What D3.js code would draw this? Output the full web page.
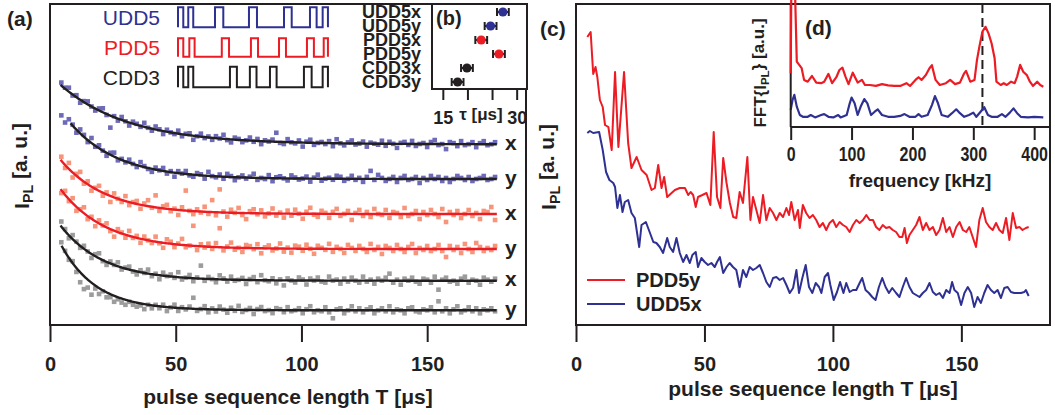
<!DOCTYPE html>
<html>
<head>
<meta charset="utf-8">
<script src="https://cdnjs.cloudflare.com/ajax/libs/d3/7.8.5/d3.min.js"></script>
<style>
  body { margin: 0; background: #fff; }
  text { font-family: "Liberation Sans", Arial, sans-serif; }
</style>
</head>
<body>
<div id="chart"></div>
<script>
// ---------------- data ----------------
// (a) pulse sequence lengths T [µs] of the measured points
const sampleT = [4.5,6,7.5,9,10.5,12,13.5,15,16.5,18,19.5,21,22.5,24,25.5,27,28.5,30,31.5,33,
  34.5,36,37.5,39,40.5,42,43.5,45,46.5,48,49.5,51,52.5,54,55.5,57,58.5,60,61.5,63,
  64.5,66,67.5,69,70.5,72,73.5,75,76.5,78,79.5,81,82.5,84,85.5,87,88.5,90,91.5,93,
  94.5,96,97.5,99,100.5,102,103.5,105,106.5,108,109.5,111,112.5,114,115.5,117,118.5,120,121.5,123,
  124.5,126,127.5,129,130.5,132,133.5,135,136.5,138,139.5,141,142.5,144,145.5,147,148.5,150,151.5,153,
  154.5,156,157.5,159,160.5,162,163.5,165,166.5,168,169.5,171,172.5,174,175.5,177];

// (a) exponential fits, vertically offset traces [a.u.]
const seriesNames = ["UDD5x","UDD5y","PDD5x","PDD5y","CDD3x","CDD3y"];
const fitBase  = [180.7, 146, 111, 76, 44.3, 14.7];
const fitAmp   = [69.3, 85.7, 68.4, 75.6, 70.6, 89.7];
const fitDecay = [27.2, 19, 18, 18, 17, 14];
const fitStart = [4.2, 8.2, 4.2, 4.2, 4.2, 4.6];
const traceLetters = ["x","y","x","y","x","y"];

// (a) deviation of each measured point from its fit [a.u.]
const resUDD5x = [3,1,4,-1,2,-3,1,3,0,-2,2,4,-1,-12,1,-2,3,0,-3,2,
  1,-1,4,0,-2,3,1,-3,2,0,-1,3,-2,1,2,-4,0,3,-1,1,
  -2,2,0,4,-1,-3,2,1,-2,0,3,-1,2,-3,1,0,2,9,-1,-2,
  3,0,-1,2,-4,1,3,-2,0,1,-1,2,-3,4,0,-2,1,3,-1,0,
  2,-3,1,0,-1,3,-2,2,0,-4,1,2,-1,3,-2,0,1,-3,2,4,
  -1,0,-5,2,1,-2,3,-1,0,2,-3,1,3,-1,0,2];
const resUDD5y = [-4,-6,2,1,-3,4,2,-2,5,-1,3,0,-3,2,4,-2,1,-1,3,0,
  -2,4,1,-1,-3,2,0,3,-2,1,-4,2,0,3,-1,-2,2,1,-3,4,
  0,-1,2,-2,3,1,-3,0,2,-1,1,4,-2,0,-1,3,-3,1,2,0,
  -2,3,1,-1,0,2,-3,1,4,-2,0,1,-1,3,2,-2,0,3,-1,1,
  -3,2,8,-1,4,1,-2,0,2,-3,1,3,-1,0,2,-4,1,-1,3,0,
  2,-2,1,-3,0,3,1,-1,2,-2,0,1,3,-1,0,2];
const resPDD5x = [4,-3,6,-5,2,7,-2,3,-4,1,5,-3,2,-6,4,0,-2,5,-3,1,
  3,-4,2,6,-1,12,-3,2,4,-2,1,-5,3,20,0,-3,2,-1,5,-2,
  12,-3,23,1,-4,3,0,5,-2,-6,2,4,-1,3,-3,0,5,-2,1,-4,
  3,-2,4,0,-5,2,6,-1,-3,3,1,-4,2,5,-2,0,3,-6,1,4,
  -2,2,-3,5,0,-1,4,-4,2,1,-3,6,-2,0,3,-5,2,-1,4,0,
  -3,5,-8,2,-1,3,-4,0,4,-2,1,-5,3,2,7,-6];
const resPDD5y = [-3,4,-2,5,-4,1,6,-3,2,-5,3,0,4,-2,-6,3,1,-3,5,-1,
  2,-4,3,0,-2,5,-1,-5,4,2,-3,1,6,-2,0,20,-4,2,-1,3,
  -2,4,19,-3,1,5,-2,0,-4,3,2,-1,4,-5,1,3,-2,0,5,-3,
  1,-4,3,2,-2,4,0,-5,3,1,-1,5,-3,2,0,-4,4,1,-2,3,
  0,-3,5,-1,2,-5,3,1,-2,4,0,-3,2,5,-4,1,-1,3,-2,0,
  4,-2,-8,3,-1,2,-4,5,0,-3,6,2,-2,1,-1,3];
const resCDD3x = [5,2,-3,4,1,-2,3,0,-4,2,5,-1,-3,2,0,4,-2,1,3,-1,
  -3,2,0,4,-2,1,-4,3,0,2,-1,5,-2,0,3,-3,1,13,-2,2,
  0,-3,4,1,-2,3,-1,0,2,-4,1,3,-2,5,0,-1,2,-3,1,-5,
  2,0,-2,3,1,-4,2,0,3,-1,-2,4,0,1,-3,2,-1,3,0,-2,
  4,-1,1,-3,2,0,3,7,-2,1,-4,2,0,3,-1,-3,2,1,-2,4,
  -9,1,3,-1,0,-3,2,4,-2,1,0,-4,3,1,-1,2];
const resCDD3y = [3,1,-2,2,-4,-10,-13,-8,-12,-3,-6,-1,-5,-3,-6,-2,-4,-5,-1,-3,
  -4,-2,-5,0,-3,1,-2,2,-4,0,3,-3,1,-1,2,11,-2,0,3,-3,
  1,-2,3,0,-3,2,-1,4,-2,0,2,-4,1,3,-1,0,-3,2,1,-2,
  3,-1,0,2,-3,1,4,-2,0,-1,3,-2,-8,1,2,-3,0,4,-1,2,
  -2,1,3,-3,0,2,-1,4,-2,1,0,-3,2,3,-1,-2,1,0,3,-2,
  9,-1,2,-3,1,4,-2,0,3,-1,2,-3,1,0,2,-1];
const residuals = [resUDD5x, resUDD5y, resPDD5x, resPDD5y, resCDD3x, resCDD3y];

// (a) pulse timing sketches, pulse edges as fraction of one cycle
const sequenceNames = ["UDD5","PDD5","CDD3"];
const pulsesUDD5 = [[0,0.035],[0.068,0.101],[0.245,0.30],[0.47,0.523],[0.702,0.753],[0.874,0.918],[0.958,0.993]];
const pulsesPDD5 = [[0,0.035],[0.075,0.11],[0.29,0.338],[0.483,0.53],[0.669,0.715],[0.854,0.90],[0.965,0.993]];
const pulsesCDD3 = [[0,0.035],[0.068,0.101],[0.344,0.39],[0.476,0.52],[0.609,0.653],[0.834,0.885],[0.958,0.993]];

// (b) fitted decay times tau [µs]
const tauValues = [27.2, 24.7, 22.8, 26.4, 19.9, 18.0];
const tauErrors = [1.2, 1.2, 1.2, 1.2, 1.2, 1.2];
const tauTicks = [15, 20, 25, 30];

// (c) measured traces [T µs, I_PL a.u.]
const tracePDD5y = [[4.4,288],[5.7,293],[6.7,251],[7.6,258],[8.3,248],[9.3,225],[10.4,218],[11.3,200],[12.6,198],[13.9,175],
  [15.2,253],[16.5,178],[18.7,253],[20.3,182],[21.6,157],[23.6,168],[25.5,155],[27.5,150],[29.4,135],[30.7,137],
  [32.0,160],[33.3,137],[34.3,148],[35.5,128],[37.2,132],[38.5,135],[40.4,137],[42.4,137],[43.7,130],[44.6,133],
  [45.6,130],[46.6,118],[47.5,128],[49.2,130],[50.8,132],[52.3,120],[53.6,193],[54.9,128],[56.2,117],[57.3,167],
  [58.6,142],[59.9,122],[61.2,108],[62.4,107],[63.7,133],[65.0,122],[66.7,168],[67.9,105],[68.9,128],[70.2,115],
  [71.5,102],[72.8,130],[74.1,105],[75.4,117],[76.7,112],[78.0,105],[79.3,112],[80.6,108],[81.9,117],[82.9,110],
  [83.8,123],[85.1,105],[86.4,115],[87.1,97],[88.3,120],[89.6,112],[90.9,107],[92.2,110],[93.5,105],[94.8,98],
  [96.1,102],[97.4,95],[98.7,102],[100.0,105],[101.3,98],[102.6,103],[103.9,100],[105.2,98],[106.5,93],[107.8,100],
  [109.1,105],[110.4,102],[111.7,105],[113.0,110],[114.3,105],[115.6,105],[116.8,98],[118.1,95],[119.4,100],[120.7,97],
  [122.0,98],[123.3,95],[124.6,93],[125.9,88],[127.0,88],[127.9,97],[128.8,82],[129.8,90],[131.1,95],[132.4,100],
  [133.7,108],[135.0,95],[136.3,102],[137.6,95],[138.9,98],[140.2,90],[141.5,95],[142.8,107],[144.1,93],[145.4,98],
  [146.7,88],[148.0,98],[149.3,103],[150.6,95],[151.9,93],[153.1,98],[154.4,88],[155.7,78],[157.0,105],[158.3,117],
  [159.6,103],[160.9,98],[162.2,95],[163.5,102],[164.8,95],[166.1,92],[167.4,107],[168.7,85],[170.0,112],[171.3,97],
  [172.6,98],[173.8,95],[175.1,97],[176.2,98]];
const traceUDD5x = [[4.4,192],[5.4,194],[6.7,192],[9.0,193],[10.4,175],[11.7,153],[13.0,145],[14.5,142],[15.2,138],[16.1,117],
  [17.1,130],[18.1,113],[19.0,123],[20.3,125],[21.6,112],[22.9,107],[24.6,78],[25.5,100],[27.2,103],[28.8,92],
  [30.1,83],[31.3,82],[32.6,78],[33.9,72],[35.5,87],[36.5,78],[37.8,73],[39.1,87],[40.4,72],[41.7,63],
  [43.0,70],[44.3,62],[45.3,70],[46.6,73],[47.5,58],[48.8,67],[50.1,63],[51.4,60],[52.7,62],[54.0,58],
  [54.9,63],[56.0,68],[57.3,52],[58.6,58],[59.8,62],[61.1,58],[62.4,55],[63.7,38],[65.0,55],[66.3,48],
  [67.6,58],[68.9,55],[70.2,57],[71.5,60],[72.8,52],[74.1,43],[75.4,38],[76.7,47],[78.0,48],[79.3,45],
  [80.6,47],[81.9,40],[83.2,32],[84.5,37],[85.8,55],[86.8,32],[88.1,47],[89.4,60],[90.7,38],[92.0,32],
  [93.3,42],[94.6,38],[95.5,32],[96.8,48],[98.1,52],[99.0,40],[100.3,25],[101.6,33],[102.8,43],[104.1,32],
  [105.2,42],[106.5,33],[107.8,35],[109.1,35],[110.4,42],[111.4,47],[112.7,35],[114.0,32],[115.3,28],[116.6,25],
  [117.9,38],[119.2,47],[120.5,38],[121.8,32],[123.1,37],[124.6,32],[125.9,28],[127.2,38],[128.5,47],[129.8,38],
  [131.1,32],[132.4,30],[133.7,28],[135.0,32],[136.3,35],[137.6,42],[138.9,33],[140.2,30],[141.5,32],[142.8,27],
  [144.1,35],[145.4,32],[146.4,43],[147.3,35],[148.6,32],[149.9,20],[151.2,32],[152.5,38],[153.8,32],[155.0,18],
  [156.3,28],[157.6,22],[158.9,32],[160.2,40],[161.5,35],[162.8,32],[164.1,35],[165.4,27],[166.7,37],[168.0,38],
  [169.3,33],[170.6,32],[171.9,32],[173.2,32],[174.5,33],[175.1,35],[176.2,29]];

// (d) Fourier spectra [kHz, a.u.]
const fftPDD5y = [[0,17.9],[1,46],[7,46],[10,21.8],[14,20.7],[18,19.6],[22,15.7],[28,15.1],[35,17.0],[42,14.8],
  [50,14.6],[55,15.1],[62,17.7],[68,14.6],[75,16.6],[80,19.0],[85,19.8],[90,16.8],[95,14.3],[102,18.1],
  [110,14.8],[117,15.7],[122,14.0],[130,14.0],[140,13.7],[150,14.3],[160,13.9],[170,13.7],[180,13.7],[190,14.6],
  [196,13.7],[205,15.7],[210,16.6],[215,15.7],[222,17.3],[228,19.6],[232,20.6],[238,15.7],[245,14.0],[255,14.6],
  [262,15.7],[270,14.3],[278,14.8],[285,17.9],[288,18.7],[295,15.1],[302,15.7],[306,22.3],[310,26.8],[315,31.8],
  [320,33.4],[325,31.2],[330,27.9],[335,22.9],[338,15.1],[345,14.0],[350,14.6],[355,14.0],[362,15.1],[368,14.6],
  [372,16.8],[377,20.7],[382,18.4],[388,17.3],[393,15.1],[398,13.7],[405,15.1],[410,14.0],[415,13.4]];
const fftUDD5x = [[0,5.7],[3,9.0],[6,10.7],[10,6.8],[15,4.0],[20,3.4],[28,3.4],[33,4.0],[40,3.2],[50,4.0],
  [55,4.3],[62,3.4],[70,3.2],[78,4.0],[82,3.2],[92,4.0],[97,7.9],[100,9.8],[105,7.9],[110,4.0],
  [115,6.8],[121,9.3],[126,7.9],[132,4.0],[138,5.1],[143,5.9],[150,4.0],[160,3.4],[170,3.4],[180,3.7],
  [187,4.3],[195,3.4],[205,3.4],[210,4.3],[215,3.4],[225,4.0],[232,7.3],[237,10.3],[242,7.9],[248,4.0],
  [258,3.4],[265,4.6],[272,5.9],[278,4.6],[285,3.4],[293,4.0],[300,4.8],[305,3.4],[312,5.1],[318,6.6],
  [324,4.0],[330,3.4],[340,3.4],[347,4.3],[353,3.4],[360,4.8],[366,6.2],[372,4.6],[378,3.4],[390,3.2],
  [400,3.4],[415,3.2]];
const fftMarker = 315;
const fftTicks = [0, 100, 200, 300, 400];
const timeTicks = [0, 50, 100, 150];

// ---------------- drawing ----------------
const ink = "#231f20";
const red = "#ec1c24";
const navy = "#2e3192";
const dotColors = ["#6d6ab8","#6d6ab8","#f7957b","#f7957b","#9c9c9c","#9c9c9c"];
const fitColors = [ink, ink, red, red, ink, ink];
const tauColors = [navy, navy, red, red, ink, ink];

const svg = d3.select("#chart").append("svg")
  .attr("width", 1055)
  .attr("height", 415);

// text with I_PL subscript
function iplText(sel, before, after) {
  sel.append("tspan").text(before + "I");
  sel.append("tspan").text("PL").attr("font-size", "0.68em").attr("dy", "0.3em");
  sel.append("tspan").text(after).attr("dy", "-0.3em");
}

function timeAxis(scale, label, labelX, labelY) {
  const g = svg.append("g").attr("transform", "translate(0,325)")
    .call(d3.axisBottom(scale).tickValues(timeTicks).tickSize(17).tickPadding(15).tickFormat(d3.format("d")));
  g.select(".domain").remove();
  g.selectAll(".tick line").attr("stroke", ink).attr("stroke-width", 2);
  g.selectAll(".tick text").attr("fill", ink).attr("font-size", 20).attr("font-weight", "bold")
    .attr("font-family", "Liberation Sans, Arial, sans-serif");
  svg.append("text").attr("x", labelX).attr("y", labelY)
    .attr("text-anchor", "middle").attr("font-size", 21).attr("font-weight", "bold").attr("fill", ink)
    .text(label);
}

//--------------------------- panel (a) ---------------------------
const xA = d3.scaleLinear().domain([0, 189.3]).range([50, 526]);
const yA = d3.scaleLinear().domain([0, 321]).range([325, 4]);

function fitValue(k, t) {
  return fitBase[k] + fitAmp[k] * Math.exp(-t / fitDecay[k]);
}

seriesNames.forEach(function(name, k) {
  const pts = sampleT.map(function(t, i) {
    return { t: t, v: fitValue(k, t) + (residuals[k][i] || 0) };
  });
  svg.append("g").selectAll("rect")
    .data(pts)
    .enter()
    .append("rect")
      .attr("x", d => xA(d.t) - 2.3)
      .attr("y", d => yA(d.v) - 2.3)
      .attr("width", 4.6)
      .attr("height", 4.6)
      .attr("fill", dotColors[k]);
});

seriesNames.forEach(function(name, k) {
  const curveT = d3.range(fitStart[k], 177.8, 0.5);
  const line = d3.line().x(t => xA(t)).y(t => yA(fitValue(k, t)));
  svg.append("path")
    .attr("d", line(curveT))
    .attr("fill", "none")
    .attr("stroke", fitColors[k])
    .attr("stroke-width", 2.4);
  svg.append("text")
    .attr("x", 505)
    .attr("y", yA(fitBase[k]) + 5.5)
    .attr("font-size", 21)
    .attr("font-weight", "bold")
    .attr("fill", ink)
    .text(traceLetters[k]);
});

svg.append("rect").attr("x", 50).attr("y", 4).attr("width", 476).attr("height", 321)
  .attr("fill", "none").attr("stroke", ink).attr("stroke-width", 2);

// pulse sketches
const pulseX = d3.scaleLinear().domain([0, 1]).range([178, 329]);
const pulseRows = [pulsesUDD5, pulsesPDD5, pulsesCDD3];
const rowHigh = [7.3, 38.3, 66.7];
const rowLow = [27.3, 56.7, 87.3];
const rowColors = [navy, red, ink];
pulseRows.forEach(function(pulses, r) {
  const pts = [];
  pulses.forEach(function(p) {
    pts.push([pulseX(p[0]), rowLow[r]], [pulseX(p[0]), rowHigh[r]], [pulseX(p[1]), rowHigh[r]], [pulseX(p[1]), rowLow[r]]);
  });
  svg.append("path").attr("d", d3.line()(pts))
    .attr("fill", "none").attr("stroke", rowColors[r]).attr("stroke-width", 2);
  svg.append("text")
    .attr("x", 160)
    .attr("y", (rowHigh[r] + rowLow[r]) / 2 + 7.5)
    .attr("text-anchor", "end")
    .attr("font-size", 21)
    .attr("fill", rowColors[r])
    .text(sequenceNames[r]);
});

svg.append("text").attr("x", 7).attr("y", 26).attr("font-size", 21).attr("font-weight", "bold")
  .attr("fill", ink).text("(a)");

const yLabA = svg.append("text").attr("transform", "translate(29,166) rotate(-90)")
  .attr("text-anchor", "middle").attr("font-size", 21).attr("font-weight", "bold").attr("fill", ink);
iplText(yLabA, "", " [a. u.]");

timeAxis(xA, "pulse sequence length T [μs]", 288, 404);

//--------------------------- panel (b) ---------------------------
const xB = d3.scaleLinear().domain([12.8, 32.1]).range([432, 527]);
const yB = d3.scalePoint().domain(seriesNames).range([12, 82]);

svg.append("rect").attr("x", 432).attr("y", 4).attr("width", 95).attr("height", 85)
  .attr("fill", "white").attr("stroke", ink).attr("stroke-width", 2);

// tightly stacked row names, as in the original
svg.append("g").selectAll("text")
  .data(seriesNames)
  .enter()
  .append("text")
    .attr("x", 421)
    .attr("y", d => yB(d) + 6)
    .attr("text-anchor", "end")
    .attr("font-size", 18)
    .attr("font-weight", "bold")
    .attr("fill", ink)
    .text(d => d);

const bars = svg.append("g").selectAll("g")
  .data(seriesNames)
  .enter()
  .append("g");
bars.append("line")
  .attr("x1", (d, i) => xB(tauValues[i] - tauErrors[i]))
  .attr("x2", (d, i) => xB(tauValues[i] + tauErrors[i]))
  .attr("y1", d => yB(d)).attr("y2", d => yB(d))
  .attr("stroke", ink).attr("stroke-width", 2);
[-1, 1].forEach(function(s) {
  bars.append("line")
    .attr("x1", (d, i) => xB(tauValues[i] + s * tauErrors[i]))
    .attr("x2", (d, i) => xB(tauValues[i] + s * tauErrors[i]))
    .attr("y1", d => yB(d) - 4).attr("y2", d => yB(d) + 4)
    .attr("stroke", ink).attr("stroke-width", 2);
});
bars.append("circle")
  .attr("cx", (d, i) => xB(tauValues[i]))
  .attr("cy", d => yB(d))
  .attr("r", 4.6)
  .attr("fill", (d, i) => tauColors[i]);

const axB = svg.append("g").attr("transform", "translate(0,89)")
  .call(d3.axisBottom(xB).tickValues(tauTicks).tickSize(11).tickPadding(11)
    .tickFormat(d => (d === 15 || d === 30) ? d : ""));
axB.select(".domain").remove();
axB.selectAll(".tick line").attr("stroke", ink).attr("stroke-width", 2);
axB.selectAll(".tick text").attr("fill", ink).attr("font-size", 18).attr("font-weight", "bold")
  .attr("font-family", "Liberation Sans, Arial, sans-serif");
svg.append("text").attr("x", 481).attr("y", 120).attr("text-anchor", "middle")
  .attr("font-size", 17).attr("font-weight", "bold").attr("fill", ink).text("τ [μs]");
svg.append("text").attr("x", 436).attr("y", 25).attr("font-size", 20).attr("font-weight", "bold")
  .attr("fill", ink).text("(b)");

//--------------------------- panel (c) ---------------------------
const xC = d3.scaleLinear().domain([0, 184.5]).range([576, 1050]);
const yC = d3.scaleLinear().domain([0, 321]).range([325, 4]);
const lineC = d3.line().x(d => xC(d[0])).y(d => yC(d[1]));

svg.append("path").attr("d", lineC(traceUDD5x)).attr("fill", "none")
  .attr("stroke", navy).attr("stroke-width", 2).attr("stroke-linejoin", "round");
svg.append("path").attr("d", lineC(tracePDD5y)).attr("fill", "none")
  .attr("stroke", red).attr("stroke-width", 2).attr("stroke-linejoin", "round");

// legend
const legendNames = ["PDD5y", "UDD5x"];
const legendColors = [red, navy];
legendNames.forEach(function(name, i) {
  const y = 280 + i * 24;
  svg.append("line").attr("x1", 587).attr("x2", 625).attr("y1", y).attr("y2", y)
    .attr("stroke", legendColors[i]).attr("stroke-width", 2);
  svg.append("text").attr("x", 636).attr("y", y + 7).attr("font-size", 20).attr("font-weight", "bold")
    .attr("fill", ink).text(name);
});

svg.append("rect").attr("x", 576).attr("y", 4).attr("width", 474).attr("height", 321)
  .attr("fill", "none").attr("stroke", ink).attr("stroke-width", 2);

svg.append("text").attr("x", 540).attr("y", 36).attr("font-size", 21).attr("font-weight", "bold")
  .attr("fill", ink).text("(c)");

const yLabC = svg.append("text").attr("transform", "translate(556,167) rotate(-90)")
  .attr("text-anchor", "middle").attr("font-size", 21).attr("font-weight", "bold").attr("fill", ink);
iplText(yLabC, "", " [a. u.]");

timeAxis(xC, "pulse sequence length T [μs]", 813, 396);

//--------------------------- panel (d) ---------------------------
const xD = d3.scaleLinear().domain([0, 426]).range([790.7, 1050]);
const yD = d3.scaleLinear().domain([0, 41]).range([127, 4]);
const lineD = d3.line().x(d => xD(d[0])).y(d => yD(d[1]));

svg.append("line").attr("x1", xD(fftMarker)).attr("x2", xD(fftMarker)).attr("y1", 4).attr("y2", 127)
  .attr("stroke", ink).attr("stroke-width", 2).attr("stroke-dasharray", "9,5");

svg.append("path").attr("d", lineD(fftUDD5x)).attr("fill", "none")
  .attr("stroke", navy).attr("stroke-width", 2.2).attr("stroke-linejoin", "round");

const axD = svg.append("g").attr("transform", "translate(0,127)")
  .call(d3.axisBottom(xD).tickValues(fftTicks).tickSize(13).tickPadding(7));
axD.select(".domain").remove();
axD.selectAll(".tick line").attr("stroke", ink).attr("stroke-width", 2);
axD.selectAll(".tick text").attr("fill", ink).attr("font-size", 20).attr("font-weight", "bold")
  .attr("font-family", "Liberation Sans, Arial, sans-serif")
  .attr("transform", "scale(0.8,1)");
svg.append("line").attr("x1", 790.7).attr("x2", 1050).attr("y1", 127).attr("y2", 127)
  .attr("stroke", ink).attr("stroke-width", 2);
svg.append("line").attr("x1", 790.7).attr("x2", 790.7).attr("y1", 4).attr("y2", 127)
  .attr("stroke", ink).attr("stroke-width", 2);

svg.append("path").attr("d", lineD(fftPDD5y)).attr("fill", "none")
  .attr("stroke", red).attr("stroke-width", 2.2).attr("stroke-linejoin", "round");

svg.append("text").attr("x", 920).attr("y", 187).attr("text-anchor", "middle")
  .attr("font-size", 19).attr("font-weight", "bold").attr("fill", ink).text("frequency [kHz]");
svg.append("text").attr("x", 805).attr("y", 35).attr("font-size", 21).attr("font-weight", "bold")
  .attr("fill", ink).text("(d)");

const yLabD = svg.append("text").attr("transform", "translate(766,73) rotate(-90)")
  .attr("text-anchor", "middle").attr("font-size", 17).attr("font-weight", "bold").attr("fill", ink);
iplText(yLabD, "FFT{", "} [a.u.]");
</script>
</body>
</html>
